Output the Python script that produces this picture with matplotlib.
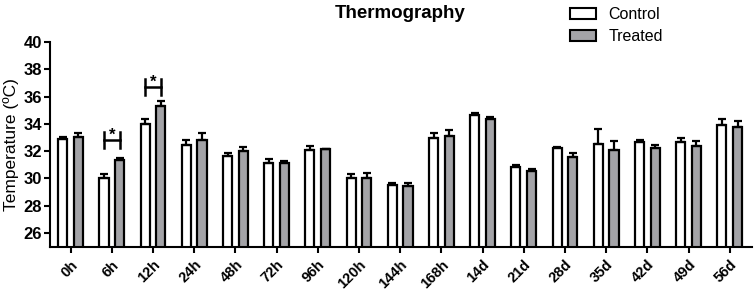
import matplotlib
matplotlib.use("Agg")
import matplotlib.pyplot as plt
import numpy as np
from matplotlib.patches import Patch

plt.rcParams['font.family'] = ['Liberation Sans', 'DejaVu Sans']

categories = ['0h', '6h', '12h', '24h', '48h', '72h', '96h', '120h', '144h', '168h',
              '14d', '21d', '28d', '35d', '42d', '49d', '56d']
control_mean = [32.87, 30.05, 34.0, 32.45, 31.64, 31.1, 32.08, 30.05, 29.52, 32.98,
                34.63, 30.86, 32.25, 32.55, 32.7, 32.7, 33.9]
control_sem = [0.2, 0.25, 0.35, 0.35, 0.25, 0.3, 0.27, 0.3, 0.16, 0.37,
               0.2, 0.12, 0.08, 1.1, 0.08, 0.24, 0.43]
treated_mean = [33.0, 31.33, 35.3, 32.8, 32.0, 31.1, 32.13, 30.05, 29.47, 33.08,
                34.38, 30.52, 31.57, 32.08, 32.25, 32.4, 33.75]
treated_sem = [0.35, 0.2, 0.4, 0.55, 0.3, 0.15, 0.05, 0.37, 0.2, 0.5,
               0.1, 0.15, 0.3, 0.64, 0.17, 0.34, 0.44]
significant = ['6h', '12h']
bracket_y = [32.8, 36.7]
yticks = [26, 28, 30, 32, 34, 36, 38, 40]

fig = plt.figure(figsize=(7.54, 2.9), dpi=100)
ax = fig.add_axes([50/754, (290-246.6)/290, (752-50)/754, (246.6-42)/290])

x = np.arange(len(categories))
w = 0.22
off = 0.19
grey = '#a3a3a7'
ax.bar(x - off, control_mean, w, color='white', edgecolor='black', linewidth=1.6, zorder=2)
ax.bar(x + off, treated_mean, w, color=grey, edgecolor='black', linewidth=1.6, zorder=2)
ax.errorbar(x - off, control_mean, yerr=[np.zeros(len(x)), control_sem], fmt='none',
            ecolor='black', elinewidth=1.6, capsize=3, capthick=1.6, zorder=3)
ax.errorbar(x + off, treated_mean, yerr=[np.zeros(len(x)), treated_sem], fmt='none',
            ecolor='black', elinewidth=1.6, capsize=3, capthick=1.6, zorder=3)

# significance brackets
for cat, yb in zip(significant, bracket_y):
    i = categories.index(cat)
    h = 0.6
    x0, x1 = i - off, i + off
    ax.plot([x0, x1], [yb, yb], color='black', lw=1.8, zorder=3)
    ax.plot([x0, x0], [yb - h, yb + h], color='black', lw=1.8, zorder=3)
    ax.plot([x1, x1], [yb - h, yb + h], color='black', lw=1.8, zorder=3)
    ax.text(i, yb + 0.35, '*', ha='center', va='center', fontsize=12, fontweight='bold')

ax.set_xlim(-0.5, 16.54)
ax.set_ylim(25, 40)
ax.set_yticks(yticks)
ax.set_xticks(x)
ax.set_xticklabels(categories, rotation=45, ha='right', rotation_mode='anchor',
                   fontsize=10.5, fontweight='bold')
for lbl in ax.get_yticklabels():
    lbl.set_fontweight('bold')
    lbl.set_fontsize(12)
ax.tick_params(axis='both', width=1.5, length=4, pad=2)
ax.tick_params(axis='x', pad=4)
for s in ['top', 'right']:
    ax.spines[s].set_visible(False)
for s in ['left', 'bottom']:
    ax.spines[s].set_linewidth(1.5)
ax.set_ylabel('Temperature (ºC)', fontsize=12.5, labelpad=3)

fig.text(400/754, 1 - 13/290, 'Thermography', ha='center', va='center',
         fontsize=13.5, fontweight='bold')

handles = [Patch(facecolor='white', edgecolor='black', linewidth=1.5, label='Control'),
           Patch(facecolor=grey, edgecolor='black', linewidth=1.5, label='Treated')]
fig.legend(handles=handles, loc='upper left', bbox_to_anchor=(556/754, 1.025),
           frameon=False, fontsize=11.5, handlelength=1.6, handleheight=0.7,
           labelspacing=0.45, handletextpad=0.8)

fig.savefig('out.png', dpi=100)
